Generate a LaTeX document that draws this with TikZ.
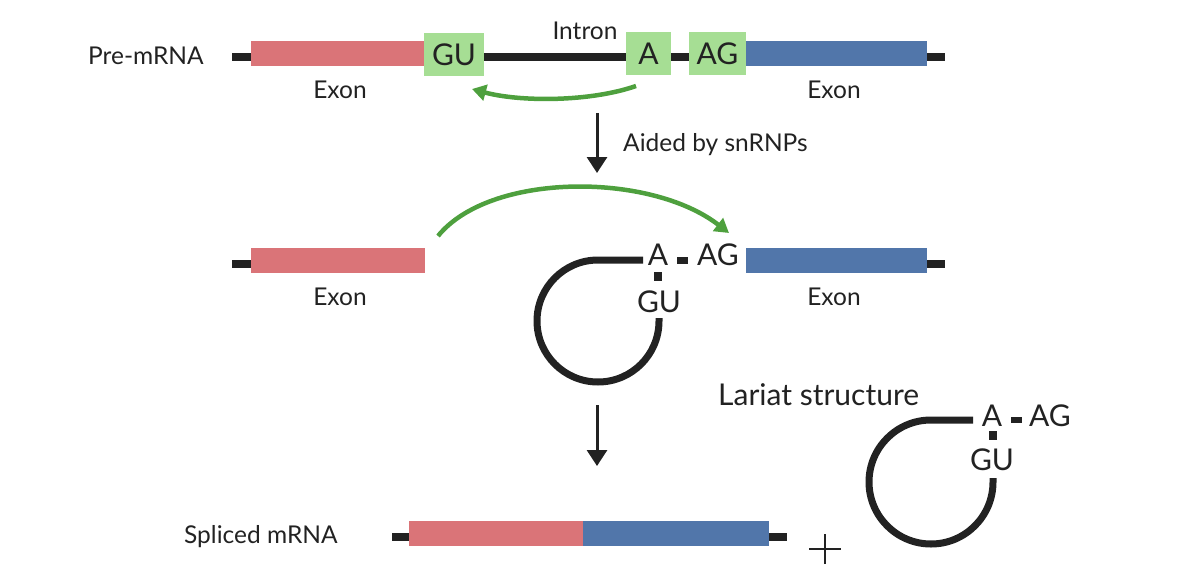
\documentclass[tikz,border=0pt]{standalone}
\usepackage{fontspec}
\setmainfont{Lato}
\usetikzlibrary{arrows.meta}
\definecolor{exred}{RGB}{218,116,120}
\definecolor{exblue}{RGB}{81,118,170}
\definecolor{boxgreen}{RGB}{166,222,148}
\definecolor{arrgreen}{RGB}{78,160,62}
\definecolor{ink}{RGB}{34,34,34}
\begin{document}
\begin{tikzpicture}[x=1pt,y=-1pt,
  strand/.style={draw=ink, line width=8pt},
  exonbox/.style={draw=none, inner sep=0pt, minimum height=25pt},
  redexon/.style={exonbox, fill=exred},
  blueexon/.style={exonbox, fill=exblue},
  sitebox/.style={fill=boxgreen, draw=none, inner sep=0pt, minimum height=43pt, text=ink,
     font=\fontsize{30}{31}\selectfont},
  lbl/.style={text=ink, inner sep=0pt, font=\fontsize{24.5}{26}\selectfont},
  bigtxt/.style={text=ink, inner sep=0pt, font=\fontsize{30}{31}\selectfont},
  greenarrow/.style={draw=arrgreen, line width=4.5pt, -{Triangle[length=14pt,width=16pt]}},
  downarrow/.style={draw=ink, line width=3pt, -{Triangle[length=16pt,width=20pt]}},
  loopline/.style={draw=ink, line width=7pt},
  dot/.style={fill=ink, draw=none, inner sep=0pt}
]
\useasboundingbox (0,0) rectangle (1182,583);

% ---------- Row 1: pre-mRNA ----------
\coordinate (s1l) at (232,57);
\coordinate (s1r) at (945,57);
\draw[strand] (s1l) -- (s1r);
\node[redexon, minimum width=174pt] (ex1a) at (338,53.5) {};
\node[blueexon, minimum width=181pt] (ex1b) at (836.5,53.5) {};
\node[sitebox, minimum width=60pt] (gu1) at (454,54.5) {GU};
\node[sitebox, minimum width=45pt] (a1) at (648.5,53.5) {A};
\node[sitebox, minimum width=57pt] (ag1) at (717.5,53.5) {AG};
\node[lbl, anchor=base] (intron) at (585,40) {Intron};
\node[lbl] (exl1a) at (340,90) {Exon};
\node[lbl] (exl1b) at (834,90) {Exon};
\node[lbl, anchor=base west] (pre) at (88,65) {Pre-mRNA};
\coordinate (g1s) at (636,86);
\coordinate (g1e) at (472,89);
\draw[greenarrow] (g1s) .. controls (590,102) and (520,102) .. (g1e);

% ---------- Arrow 1 ----------
\coordinate (d1s) at (597,113);
\coordinate (d1e) at (597,173);
\draw[downarrow] (d1s) -- (d1e);
\node[lbl, anchor=base west] (aided) at (623,151) {Aided by snRNPs};

% ---------- Row 2 ----------
\coordinate (s2l) at (232,264);
\coordinate (s2a) at (260,264);
\coordinate (s2b) at (920,264);
\coordinate (s2r) at (945,264);
\draw[strand] (s2l) -- (s2a);
\draw[strand] (s2b) -- (s2r);
\node[redexon, minimum width=174pt] (ex2a) at (338,260.5) {};
\node[blueexon, minimum width=181pt] (ex2b) at (836.5,260.5) {};
\node[lbl] (exl2a) at (340,297) {Exon};
\node[lbl] (exl2b) at (834,297) {Exon};
\coordinate (g2s) at (438,236);
\coordinate (g2e) at (729,233);
\draw[greenarrow] (g2s) .. controls (490,172) and (650,172) .. (g2e);

% lariat 1
\coordinate (l1a) at (643,260);
\coordinate (l1b) at (598,260);
\draw[loopline] (l1a) -- (l1b) arc[start angle=-90, end angle=-360, radius=61] -- ++(0,-3);
\node[bigtxt] (a2) at (658,255) {A};
\node[bigtxt] (ag2) at (718,255) {AG};
\node[bigtxt] (gu2) at (659,302) {GU};
\node[dot, minimum width=11pt, minimum height=7pt] (dash2) at (682.5,260) {};
\node[dot, minimum width=8pt, minimum height=9pt] (sq2) at (658,276.5) {};

% ---------- Arrow 2 ----------
\coordinate (d2s) at (597,405);
\coordinate (d2e) at (597,466);
\draw[downarrow] (d2s) -- (d2e);

% ---------- Lariat structure ----------
\node[bigtxt, anchor=base west] (lariat) at (718,405) {Lariat structure};
\coordinate (l2a) at (973,420);
\coordinate (l2b) at (931,420);
\draw[loopline] (l2a) -- (l2b) arc[start angle=-90, end angle=-360, radius=62] -- ++(0,-4);
\node[bigtxt] (a3) at (992,416) {A};
\node[bigtxt] (ag3) at (1050,416) {AG};
\node[bigtxt] (gu3) at (992,460) {GU};
\node[dot, minimum width=11pt, minimum height=6pt] (dash3) at (1016.5,420) {};
\node[dot, minimum width=8pt, minimum height=9pt] (sq3) at (993,435.5) {};

% ---------- Row 3: spliced mRNA ----------
\coordinate (s3l) at (392,537);
\coordinate (s3a) at (415,537);
\coordinate (s3b) at (760,537);
\coordinate (s3r) at (787,537);
\draw[strand] (s3l) -- (s3a);
\draw[strand] (s3b) -- (s3r);
\node[redexon, minimum width=174pt] (ex3a) at (496,533.5) {};
\node[blueexon, minimum width=186pt] (ex3b) at (676,533.5) {};
\node[lbl, anchor=base west] (spliced) at (184,543) {Spliced mRNA};

% plus sign
\coordinate (pc) at (825,549);
\draw[ink, line width=1.5pt] ([xshift=-16pt]pc) -- ([xshift=16pt]pc);
\draw[ink, line width=1.5pt] ([yshift=-15pt]pc) -- ([yshift=15pt]pc);
\end{tikzpicture}
\end{document}
